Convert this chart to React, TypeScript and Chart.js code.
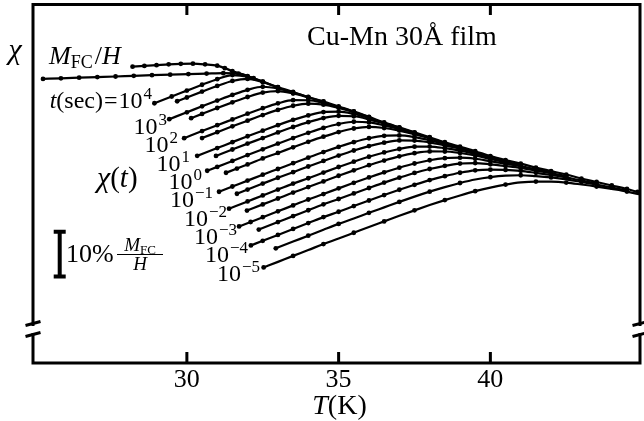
import React, { useEffect, useRef } from 'react';
import { Chart, registerables } from 'chart.js';

Chart.register(...registerables);

// ---------- axes ----------
const T_MIN = 24.93;
const T_MAX = 44.93;
const CHI_MIN = 170;
const CHI_MAX = 531;
const xTickValues = [30, 35, 40];
const xTickLabels = ['30', '35', '40'];

// ---------- field-cooled M_FC/H (arbitrary units, plateau = 470) ----------
const fcT = [28.21, 28.6, 29.0, 29.4, 29.8, 30.2, 30.6, 31.0, 31.25, 31.5, 32.0, 32.5, 33.0, 33.5, 34.0, 34.5, 35.0, 35.5, 36.0, 36.5, 37.0, 37.5, 38.0, 38.5, 39.0, 39.5, 40.0, 40.5, 41.0, 41.5, 42.0, 42.5, 43.0, 43.5, 44.0, 44.5, 44.85];
const fcChi = [468, 468.7, 469.5, 470.3, 470.8, 471, 470.3, 469, 466.5, 463.5, 458.5, 453, 447.5, 442.5, 437.5, 433, 428, 423, 417.5, 412, 407, 402, 397, 392, 387.5, 383, 378, 374, 370.5, 366.5, 363, 359.5, 355.5, 352, 348.5, 345, 342];

// ---------- long low-T curve ----------
const longT = [25.26, 25.85, 26.45, 27.05, 27.65, 28.25, 28.85, 29.45, 30.05, 30.65, 31.2, 31.7, 32.2];
const longChi = [455.7, 456.3, 456.9, 457.5, 458.1, 458.8, 459.4, 459.9, 460.5, 461.0, 461.4, 461.0, 456.4];

// ---------- chi(t) curves, t = 10^4 ... 10^-5 s in half decades ----------
const e40T = [28.93, 29.5, 30.0, 30.5, 31.0, 31.5, 32.0, 32.5];
const e40Chi = [431.2, 438.0, 443.9, 449.8, 455.4, 459.5, 457.9, 453.0];
const e35T = [29.68, 30.0, 30.5, 31.0, 31.5, 32.0, 32.5, 33.0];
const e35Chi = [433.2, 437.0, 442.9, 448.6, 453.6, 455.7, 452.4, 447.4];
const e30T = [29.42, 30.0, 30.5, 31.0, 31.5, 32.0, 32.5, 33.0, 33.5, 34.0];
const e30Chi = [415.2, 422.1, 428.1, 433.9, 439.6, 444.7, 447.8, 446.0, 442.0, 437.4];
const e25T = [30.14, 30.5, 31.0, 31.5, 32.0, 32.5, 33.0, 33.5, 34.0, 34.5];
const e25Chi = [416.2, 420.5, 426.4, 432.1, 437.5, 441.9, 443.4, 441.0, 437.0, 432.8];
const e20T = [29.91, 30.5, 31.0, 31.5, 32.0, 32.5, 33.0, 33.5, 34.0, 34.5, 35.0, 35.5];
const e20Chi = [396.1, 403.2, 409.1, 414.9, 420.7, 426.2, 431.1, 434.3, 434.2, 431.6, 427.4, 422.8];
const e15T = [30.5, 31.0, 31.5, 32.0, 32.5, 33.0, 33.5, 34.0, 34.5, 35.0, 35.5, 36.0];
const e15Chi = [396.2, 402.1, 408.0, 413.7, 419.3, 424.5, 428.7, 430.8, 429.8, 426.6, 422.4, 417.2];
const e10T = [30.34, 31.0, 31.5, 32.0, 32.5, 33.0, 33.5, 34.0, 34.5, 35.0, 35.5, 36.0, 36.5, 37.0];
const e10Chi = [378.3, 386.1, 392.1, 398.0, 403.6, 409.2, 414.5, 419.0, 422.3, 422.7, 420.4, 416.3, 411.4, 406.7];
const e05T = [30.96, 31.5, 32.0, 32.5, 33.0, 33.5, 34.0, 34.5, 35.0, 35.5, 36.0, 36.5, 37.0, 37.5];
const e05Chi = [378.2, 384.7, 390.6, 396.2, 401.9, 407.3, 412.2, 416.3, 418.6, 418.1, 415.0, 410.7, 406.3, 401.7];
const e00T = [30.67, 31.0, 31.5, 32.0, 32.5, 33.0, 33.5, 34.0, 34.5, 35.0, 35.5, 36.0, 36.5, 37.0, 37.5, 38.0];
const e00Chi = [363.3, 367.2, 373.2, 379.1, 384.9, 390.6, 396.2, 401.5, 406.4, 410.3, 412.6, 411.9, 409.0, 405.4, 401.1, 396.5];
const em05T = [31.29, 31.65, 32.0, 32.5, 33.0, 33.5, 34.0, 34.5, 35.0, 35.5, 36.0, 36.5, 37.0, 37.5, 38.0, 38.5];
const em05Chi = [361.3, 365.5, 369.7, 375.7, 381.2, 386.9, 392.4, 397.6, 402.2, 405.8, 407.4, 406.3, 403.7, 400.1, 395.9, 391.4];
const em10T = [31.06, 31.5, 32.0, 32.5, 33.0, 33.5, 34.0, 34.5, 35.0, 35.5, 36.0, 36.5, 37.0, 37.5, 38.0, 38.5, 39.0, 39.5];
const em10Chi = [342.2, 347.5, 353.4, 359.4, 365.1, 370.9, 376.5, 382.1, 387.3, 392.1, 396.0, 398.4, 398.8, 397.1, 394.0, 390.2, 386.4, 382.3];
const em15T = [31.65, 32.0, 32.5, 33.0, 33.5, 34.0, 34.5, 35.0, 35.5, 36.0, 36.5, 37.0, 37.5, 38.0, 38.5, 39.0, 39.5, 40.0];
const em15Chi = [340.2, 344.4, 350.4, 356.3, 361.9, 367.6, 373.2, 378.6, 383.7, 388.1, 391.6, 393.8, 393.7, 391.8, 388.8, 385.5, 381.7, 377.2];
const em20T = [31.39, 32.0, 32.5, 33.0, 33.5, 34.0, 34.5, 35.0, 35.5, 36.0, 36.5, 37.0, 37.5, 38.0, 38.5, 39.0, 39.5, 40.0, 40.5];
const em20Chi = [325.2, 332.5, 338.5, 344.4, 350.4, 355.8, 361.5, 367.1, 372.4, 377.4, 381.7, 385.2, 387.5, 387.6, 386.0, 383.5, 380.4, 376.3, 372.9];
const em25T = [31.98, 32.5, 33.0, 33.5, 34.0, 34.5, 35.0, 35.5, 36.0, 36.5, 37.0, 37.5, 38.0, 38.5, 39.0, 39.5, 40.0, 40.5, 41.0];
const em25Chi = [323.3, 329.5, 335.4, 341.4, 346.9, 352.6, 358.3, 363.7, 368.9, 373.6, 377.8, 381.0, 382.8, 382.7, 381.2, 378.8, 375.2, 372.1, 369.2];
const em30T = [31.72, 32.1, 32.5, 33.0, 33.5, 34.0, 34.5, 35.0, 35.5, 36.0, 36.5, 37.0, 37.5, 38.0, 38.5, 39.0, 39.5, 40.0, 40.5, 41.0, 41.5, 42.0];
const em30Chi = [307.3, 311.8, 316.6, 322.5, 328.5, 334.4, 339.9, 345.6, 351.2, 356.6, 361.7, 366.4, 370.6, 373.9, 376.0, 376.5, 375.4, 372.9, 370.4, 368.0, 364.7, 361.7];
const em35T = [32.37, 33.0, 33.5, 34.0, 34.5, 35.0, 35.5, 36.0, 36.5, 37.0, 37.5, 38.0, 38.5, 39.0, 39.5, 40.0, 40.5, 41.0, 41.5, 42.0, 42.5];
const em35Chi = [304.2, 311.7, 317.7, 323.6, 329.6, 334.9, 340.5, 346.0, 351.4, 356.4, 361.1, 365.1, 368.3, 370.5, 371.0, 369.8, 368.1, 366.2, 363.5, 360.8, 357.9];
const em40T = [32.11, 32.5, 33.0, 33.5, 34.0, 34.5, 35.0, 35.5, 36.0, 36.5, 37.0, 37.5, 38.0, 38.5, 39.0, 39.5, 40.0, 40.5, 41.0, 41.5, 42.0, 42.5, 43.0, 43.5];
const em40Chi = [288.2, 292.9, 298.8, 304.8, 310.7, 316.7, 322.1, 327.8, 333.4, 338.9, 344.2, 349.2, 353.9, 357.9, 361.3, 363.7, 364.4, 364.2, 363.2, 361.2, 359.1, 356.6, 353.4, 350.5];
const em45T = [32.93, 33.5, 34.0, 34.5, 35.0, 35.5, 36.0, 36.5, 37.0, 37.5, 38.0, 38.5, 39.0, 39.5, 40.0, 40.5, 41.0, 41.5, 42.0, 42.5, 43.0, 43.5, 44.0, 44.5];
const em45Chi = [285.3, 292.1, 298.0, 304.0, 309.9, 315.3, 321.0, 326.5, 332.0, 337.3, 342.3, 346.9, 351.0, 354.5, 356.9, 358.4, 358.8, 357.9, 356.6, 354.7, 352.0, 349.4, 346.5, 343.5];
const em50T = [32.53, 33.0, 33.5, 34.0, 34.5, 35.0, 35.5, 36.0, 36.5, 37.0, 37.5, 38.0, 38.5, 39.0, 39.5, 40.0, 40.5, 41.0, 41.5, 42.0, 42.5, 43.0, 43.5, 44.0, 44.5, 44.9];
const em50Chi = [266.1, 271.7, 277.7, 283.6, 289.6, 295.2, 301.0, 306.8, 312.4, 318.0, 323.5, 328.8, 333.8, 338.5, 342.8, 346.4, 349.4, 351.6, 352.4, 352.3, 351.4, 349.5, 347.4, 345.0, 342.4, 339.7];

const relaxCurves: [number[], number[]][] = [
  [e40T, e40Chi], [e35T, e35Chi], [e30T, e30Chi], [e25T, e25Chi], [e20T, e20Chi],
  [e15T, e15Chi], [e10T, e10Chi], [e05T, e05Chi], [e00T, e00Chi], [em05T, em05Chi],
  [em10T, em10Chi], [em15T, em15Chi], [em20T, em20Chi], [em25T, em25Chi], [em30T, em30Chi],
  [em35T, em35Chi], [em40T, em40Chi], [em45T, em45Chi], [em50T, em50Chi],
];
const relaxNames = ['1e4', '1e3.5', '1e3', '1e2.5', '1e2', '1e1.5', '1e1', '1e0.5', '1e0', '1e-0.5', '1e-1', '1e-1.5', '1e-2', '1e-2.5', '1e-3', '1e-3.5', '1e-4', '1e-4.5', '1e-5'];

// curve label exponents (decades only)
const labelExponents = ['4', '3', '2', '1', '0', '\u22121', '\u22122', '\u22123', '\u22124', '\u22125'];
const labelAnchors: [number, number][] = [[152, 108], [167, 134], [178, 152], [190, 171], [202, 189], [213, 207], [227, 226], [237, 244], [248, 262], [260, 281]];

// 10% scale bar: 10% of the M_FC/H plateau (470)
const fcPlateau = 470;
const scaleBarBase = 256;
const scaleBarT = 25.81;

const SERIF = '"Liberation Serif", "Times New Roman", serif';
const fnt = (size: number, it = false) => `${it ? 'italic ' : ''}${size}px ${SERIF}`;

type Run = { t: string; size: number; it?: boolean; dy?: number; dx?: number };

function runsWidth(ctx: CanvasRenderingContext2D, runs: Run[]) {
  let w = 0;
  for (const r of runs) {
    ctx.font = fnt(r.size, r.it);
    w += ctx.measureText(r.t).width + (r.dx || 0);
  }
  return w;
}

function drawRuns(ctx: CanvasRenderingContext2D, runs: Run[], x: number, y: number, align: 'left' | 'right' | 'center') {
  const w = runsWidth(ctx, runs);
  let cx = align === 'right' ? x - w : align === 'center' ? x - w / 2 : x;
  ctx.textAlign = 'left';
  ctx.textBaseline = 'alphabetic';
  for (const r of runs) {
    ctx.font = fnt(r.size, r.it);
    cx += r.dx || 0;
    ctx.fillText(r.t, cx, y + (r.dy || 0));
    cx += ctx.measureText(r.t).width;
  }
}

const decorPlugin = {
  id: 'decor',
  beforeDraw(chart: any) {
    const ctx = chart.ctx as CanvasRenderingContext2D;
    ctx.save();
    ctx.fillStyle = '#fff';
    ctx.fillRect(0, 0, chart.width, chart.height);
    ctx.restore();
  },
  afterDraw(chart: any) {
    const ctx = chart.ctx as CanvasRenderingContext2D;
    const { left, right, top, bottom } = chart.chartArea;
    const xs = chart.scales.x;
    const ys = chart.scales.y;
    ctx.save();
    ctx.strokeStyle = '#000';
    ctx.fillStyle = '#000';
    ctx.lineWidth = 3;
    ctx.lineCap = 'butt';

    const gapTop = bottom - 37;
    const gapBot = bottom - 30;
    // frame
    ctx.beginPath();
    ctx.moveTo(left - 1.5, top + 0.5); ctx.lineTo(right + 1.5, top + 0.5);
    ctx.moveTo(left - 1.5, bottom); ctx.lineTo(right + 1.5, bottom);
    for (const ax of [left, right]) {
      ctx.moveTo(ax, top); ctx.lineTo(ax, gapTop);
      ctx.moveTo(ax, gapBot); ctx.lineTo(ax, bottom);
    }
    ctx.stroke();
    // axis breaks
    ctx.beginPath();
    for (const ax of [left, right]) {
      for (const cy of [bottom - 39.5, bottom - 28.5]) {
        ctx.moveTo(ax - 7.5, cy + 2); ctx.lineTo(ax + 7.5, cy - 2);
      }
    }
    ctx.stroke();
    // ticks
    ctx.beginPath();
    for (const v of xTickValues) {
      const px = xs.getPixelForValue(v);
      ctx.moveTo(px, top); ctx.lineTo(px, top + 11);
      ctx.moveTo(px, bottom); ctx.lineTo(px, bottom - 11);
    }
    ctx.stroke();
    xTickValues.forEach((v, i) => {
      drawRuns(ctx, [{ t: xTickLabels[i], size: 26 }], xs.getPixelForValue(v), bottom + 24, 'center');
    });
    // axis titles
    drawRuns(ctx, [{ t: 'T', size: 28, it: true }, { t: '(K)', size: 28 }], (left + right) / 2 + 3, 414, 'center');
    drawRuns(ctx, [{ t: '\u03c7', size: 30, it: true }], 15, 59, 'center');
    // title
    drawRuns(ctx, [{ t: 'Cu-Mn 30\u00c5 film', size: 28 }], 402, 45, 'center');
    // curve annotations
    drawRuns(ctx, [{ t: 'M', size: 26, it: true }, { t: 'FC', size: 18, dy: 4 }, { t: '/', size: 26, dx: 2 }, { t: 'H', size: 26, it: true }], 49, 64, 'left');
    drawRuns(ctx, [{ t: '\u03c7', size: 30, it: true }, { t: '(', size: 29 }, { t: 't', size: 29, it: true }, { t: ')', size: 29 }], 97, 187, 'left');
    labelExponents.forEach((e, i) => {
      const [ax, ay] = labelAnchors[i];
      const runs: Run[] = [];
      if (i === 0) {
        runs.push({ t: 't', size: 24, it: true }, { t: '(sec)', size: 24 }, { t: '=', size: 24, dx: 1 }, { t: '', size: 24, dx: 1 });
      }
      runs.push({ t: '10', size: 24 }, { t: e, size: 17, dy: -9, dx: 1 });
      drawRuns(ctx, runs, ax, ay, 'right');
    });
    // 10% scale bar
    const bx = xs.getPixelForValue(scaleBarT);
    const by0 = ys.getPixelForValue(scaleBarBase);
    const by1 = ys.getPixelForValue(scaleBarBase + 0.1 * fcPlateau);
    ctx.lineWidth = 4;
    ctx.beginPath();
    ctx.moveTo(bx, by0); ctx.lineTo(bx, by1);
    ctx.moveTo(bx - 6, by0 - 1); ctx.lineTo(bx + 6, by0 - 1);
    ctx.moveTo(bx - 6, by1 + 1); ctx.lineTo(bx + 6, by1 + 1);
    ctx.stroke();
    drawRuns(ctx, [{ t: '10%', size: 26 }], 66, 262, 'left');
    drawRuns(ctx, [{ t: 'M', size: 19, it: true }, { t: 'FC', size: 13, dy: 3 }], 140, 251, 'center');
    ctx.lineWidth = 1.2;
    ctx.beginPath();
    ctx.moveTo(117, 254.5); ctx.lineTo(163, 254.5);
    ctx.stroke();
    drawRuns(ctx, [{ t: 'H', size: 19, it: true }], 140, 270, 'center');
    ctx.restore();
  },
};

const toPts = (T: number[], c: number[]) => T.map((t, i) => ({ x: t, y: c[i] }));

export default function App() {
  const ref = useRef<HTMLCanvasElement>(null);
  useEffect(() => {
    const base = {
      borderColor: '#000',
      backgroundColor: '#000',
      borderWidth: 2.2,
      pointBackgroundColor: '#000',
      pointBorderWidth: 0,
      pointRadius: 2.4,
      fill: false,
      cubicInterpolationMode: 'monotone' as const,
    };
    const datasets: any[] = [
      { ...base, label: 'M_FC/H', data: toPts(fcT, fcChi) },
      { ...base, label: 'low-T', data: toPts(longT, longChi) },
      ...relaxCurves.map(([T, c], k) => ({
        ...base,
        label: relaxNames[k],
        data: toPts(T, c),
        pointRadius: k >= 17 ? (cx: any) => (cx.dataIndex % 2 === 0 ? 2.4 : 0) : 2.4,
      })),
    ];
    const chart = new Chart(ref.current as HTMLCanvasElement, {
      type: 'line',
      data: { datasets },
      options: {
        responsive: false,
        animation: false,
        devicePixelRatio: 1,
        layout: { padding: { left: 33, top: 2, right: 1, bottom: 58 } },
        plugins: { legend: { display: false }, tooltip: { enabled: false }, title: { display: false } },
        scales: {
          x: { type: 'linear', min: T_MIN, max: T_MAX, display: false },
          y: { type: 'linear', min: CHI_MIN, max: CHI_MAX, display: false },
        },
      },
      plugins: [decorPlugin],
    });
    return () => chart.destroy();
  }, []);
  return (
    <div style={{ position: 'fixed', left: 0, top: 0, width: 644, height: 421, background: '#fff' }}>
      <canvas ref={ref} width={644} height={421} style={{ display: 'block', width: 644, height: 421 }} />
    </div>
  );
}
